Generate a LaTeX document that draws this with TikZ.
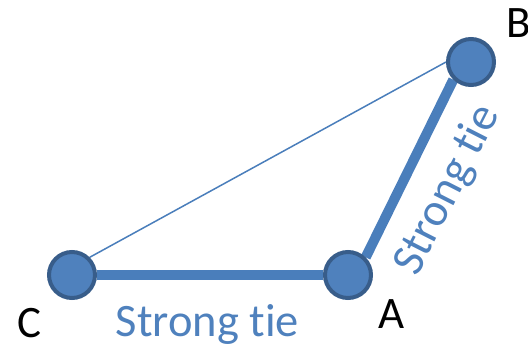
\documentclass[tikz,border=0pt]{standalone}
\usepackage{fontspec}
\setmainfont{Carlito}[Ligatures=NoCommon]
\usetikzlibrary{positioning, backgrounds}
\definecolor{nodefill}{HTML}{4F81BD}
\definecolor{nodeline}{HTML}{385D8A}
\definecolor{tieline}{HTML}{4A7EBB}
\begin{document}
\begin{tikzpicture}[x=1pt, y=-1pt,
            person/.style={circle, draw=nodeline, fill=nodefill, line width=4pt,
                        minimum size=46pt, inner sep=0pt},
            strong/.style={draw=tieline, line width=10pt},
            weak/.style={draw=tieline, line width=1.5pt},
            letter/.style={font=\fontsize{45}{54}\selectfont, anchor=base},
            lbl/.style={font=\fontsize{46.5}{56}\selectfont, text=nodefill}]

            \useasboundingbox (0,0) rectangle (528,346);

            \node[person] (C) at (72,275) {};
            \node[person] (A) at (348,275) {};
            \node[person] (B) at (471,62)  {};

            \node[letter] (cname) at (29,337) {C};
            \node[letter] (aname) at (392,328) {A};
            \node[letter] (bname) at (519,37)  {B};

            \node[lbl, anchor=base] (tieca) at (207.5,336) {Strong tie};
            \node[lbl, rotate=63] (tieab) at (448,190) {Strong tie};

            % ties go under the circles
            \begin{pgfonlayer}{background}
            \path[weak]   (C.north east) -- (B.west);
            \path[strong] (C.east) -- (A.west);
            \path[strong] (A.north east) -- (B.south west);
            \end{pgfonlayer}
\end{tikzpicture}
\end{document}
